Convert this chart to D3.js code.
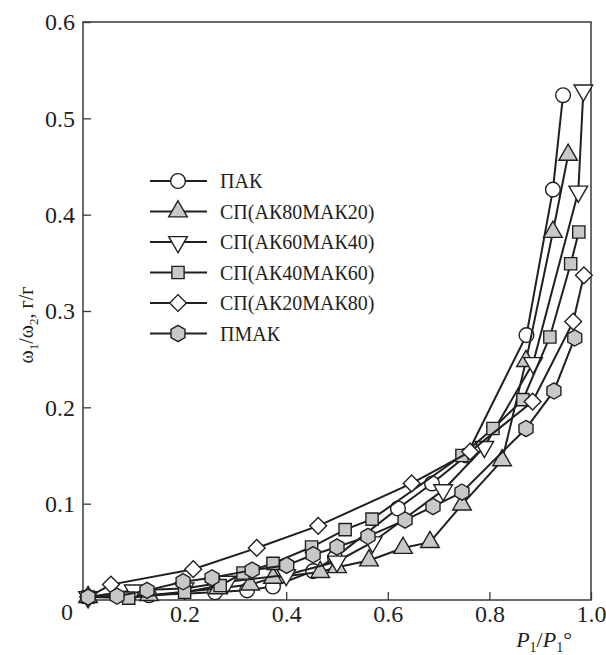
<!DOCTYPE html>
<html lang="ru">
<head>
  <meta charset="UTF-8">
  <title>Изотермы сорбции</title>
  <script src="https://d3js.org/d3.v7.min.js"></script>
  <style>
    body { margin: 0; background: #fff; }
  </style>
</head>
<body>
<div id="chart"></div>
<script>
  // series values: [P1/P1°, ω1/ω2]
  const seriesNames = ["ПАК", "СП(АК80МАК20)", "СП(АК60МАК40)", "СП(АК40МАК60)", "СП(АК20МАК80)", "ПМАК"];

  const pak = [[0.01, 0.003], [0.13, 0.005], [0.26, 0.008], [0.323, 0.01], [0.374, 0.014], [0.453, 0.03],
    [0.496, 0.044], [0.62, 0.095], [0.687, 0.121], [0.755, 0.15], [0.873, 0.275], [0.925, 0.426], [0.945, 0.524]];
  const ak80 = [[0.01, 0.003], [0.13, 0.005], [0.266, 0.012], [0.329, 0.016], [0.374, 0.023], [0.467, 0.029],
    [0.5, 0.034], [0.563, 0.041], [0.63, 0.054], [0.683, 0.06], [0.746, 0.099], [0.825, 0.145],
    [0.872, 0.248], [0.925, 0.382], [0.955, 0.462]];
  const ak60 = [[0.01, 0.003], [0.1, 0.01], [0.2, 0.012], [0.285, 0.019], [0.4, 0.026], [0.5, 0.04],
    [0.57, 0.06], [0.709, 0.114], [0.79, 0.159], [0.886, 0.246], [0.975, 0.424], [0.985, 0.529]];
  const ak40 = [[0.01, 0.003], [0.09, 0.002], [0.2, 0.008], [0.27, 0.015], [0.315, 0.028], [0.374, 0.038],
    [0.45, 0.055], [0.516, 0.073], [0.569, 0.084], [0.746, 0.15], [0.807, 0.178], [0.866, 0.208],
    [0.919, 0.273], [0.96, 0.349], [0.976, 0.382]];
  const ak20 = [[0.01, 0.003], [0.055, 0.016], [0.217, 0.032], [0.342, 0.054], [0.463, 0.077], [0.647, 0.121],
    [0.762, 0.154], [0.885, 0.206], [0.965, 0.289], [0.986, 0.337]];
  const pmak = [[0.01, 0.003], [0.067, 0.004], [0.126, 0.01], [0.197, 0.019], [0.254, 0.023], [0.333, 0.031],
    [0.401, 0.036], [0.453, 0.047], [0.5, 0.055], [0.561, 0.066], [0.634, 0.083], [0.689, 0.097],
    [0.746, 0.112], [0.872, 0.178], [0.927, 0.217], [0.968, 0.272]];

  const xTicks = [0.2, 0.4, 0.6, 0.8, 1.0];
  const yTicks = [0.1, 0.2, 0.3, 0.4, 0.5, 0.6];

  const W = 606, H = 655;
  const margin = { top: 22, right: 15, bottom: 55, left: 83 };
  const width = W - margin.left - margin.right;
  const height = H - margin.top - margin.bottom;
  const ink = "#231f20", gray = "#c8c8c8";
  const serif = "'Liberation Serif', 'DejaVu Serif', serif";

  // marker shapes
  const hexagon = {
    draw(ctx, size) {
      const r = Math.sqrt(size / (1.5 * Math.sqrt(3)));
      for (let i = 0; i < 6; i++) {
        const a = Math.PI / 3 * i - Math.PI / 2;
        i ? ctx.lineTo(r * Math.cos(a), r * Math.sin(a)) : ctx.moveTo(r * Math.cos(a), r * Math.sin(a));
      }
      ctx.closePath();
    }
  };
  const markers = [
    { type: d3.symbolCircle, size: 170, fill: "#fff", rot: 0 },
    { type: d3.symbolTriangle, size: 150, fill: gray, rot: 0 },
    { type: d3.symbolTriangle, size: 150, fill: "#fff", rot: 180 },
    { type: d3.symbolSquare, size: 150, fill: gray, rot: 0 },
    { type: d3.symbolSquare, size: 140, fill: "#fff", rot: 45 },
    { type: hexagon, size: 170, fill: gray, rot: 0 }
  ];
  const allSeries = [pak, ak80, ak60, ak40, ak20, pmak];

  const svg = d3.select("#chart").append("svg")
    .attr("width", W).attr("height", H)
    .attr("font-family", serif);
  const g = svg.append("g").attr("transform", `translate(${margin.left},${margin.top})`);

  const x = d3.scaleLinear().domain([0, 1]).range([0, width]);
  const y = d3.scaleLinear().domain([0, 0.6]).range([height, 0]);

  // frame
  g.append("rect").attr("width", width).attr("height", height)
    .attr("fill", "none").attr("stroke", "#3a3a3a").attr("stroke-width", 1.5);

  // axes with inward ticks
  const yAxis = g.append("g")
    .call(d3.axisLeft(y).tickValues(yTicks).tickSize(-8).tickPadding(8).tickFormat(d3.format(".1f")));
  const xAxis = g.append("g").attr("transform", `translate(0,${height})`)
    .call(d3.axisBottom(x).tickValues(xTicks).tickSize(-8).tickPadding(5).tickFormat(d3.format(".1f")));
  [xAxis, yAxis].forEach(a => {
    a.attr("font-family", serif);
    a.select(".domain").remove();
    a.selectAll("line").attr("stroke", "#3a3a3a").attr("stroke-width", 1.3);
    a.selectAll("text").style("font-size", "24px").style("font-family", serif).attr("fill", ink);
  });
  g.append("text").attr("x", -16).attr("y", height + 20)
    .attr("text-anchor", "middle").style("font-size", "24px").style("font-family", serif)
    .attr("fill", ink).text("0");

  const line = d3.line().x(d => x(d[0])).y(d => y(d[1]));

  allSeries.forEach((data, i) => {
    const m = markers[i];
    const sym = d3.symbol().type(m.type).size(m.size);
    const sg = g.append("g");
    sg.append("path").datum(data).attr("d", line)
      .attr("fill", "none").attr("stroke", ink).attr("stroke-width", 2);
    sg.selectAll("path.pt").data(data).enter().append("path").attr("class", "pt")
      .attr("d", sym)
      .attr("transform", d => `translate(${x(d[0])},${y(d[1])}) rotate(${m.rot})`)
      .attr("fill", m.fill).attr("stroke", ink).attr("stroke-width", 1.4);
  });

  // legend
  const legend = svg.append("g").attr("transform", "translate(150,181)");
  seriesNames.forEach((name, i) => {
    const m = markers[i];
    const row = legend.append("g").attr("transform", `translate(0,${i * 30.5})`);
    row.append("line").attr("x1", 0).attr("x2", 57).attr("stroke", ink).attr("stroke-width", 2.2);
    row.append("path").attr("d", d3.symbol().type(m.type).size(m.size)())
      .attr("transform", `translate(28,0) rotate(${m.rot})`)
      .attr("fill", m.fill).attr("stroke", ink).attr("stroke-width", 1.4);
    row.append("text").attr("x", 70).attr("y", 7)
      .style("font-size", "20px").style("font-family", serif).attr("fill", ink).text(name);
  });

  // axis titles
  const yt = svg.append("text").attr("transform", "translate(33,325) rotate(-90)")
    .attr("text-anchor", "middle").style("font-size", "20px").style("font-family", serif).attr("fill", ink);
  yt.append("tspan").text("ω");
  yt.append("tspan").attr("dy", 5).style("font-size", "13px").text("1");
  yt.append("tspan").attr("dy", -5).text("/ω");
  yt.append("tspan").attr("dy", 5).style("font-size", "13px").text("2");
  yt.append("tspan").attr("dy", -5).text(", г/г");

  const xt = svg.append("text").attr("x", 572).attr("y", 647)
    .attr("text-anchor", "end").style("font-size", "22px").style("font-family", serif).attr("fill", ink);
  xt.append("tspan").style("font-style", "italic").text("P");
  xt.append("tspan").attr("dy", 5).style("font-size", "14px").text("1");
  xt.append("tspan").attr("dy", -5).text("/");
  xt.append("tspan").style("font-style", "italic").text("P");
  xt.append("tspan").attr("dy", 5).style("font-size", "14px").text("1");
  xt.append("tspan").attr("dy", -5).text("°");
</script>
</body>
</html>
